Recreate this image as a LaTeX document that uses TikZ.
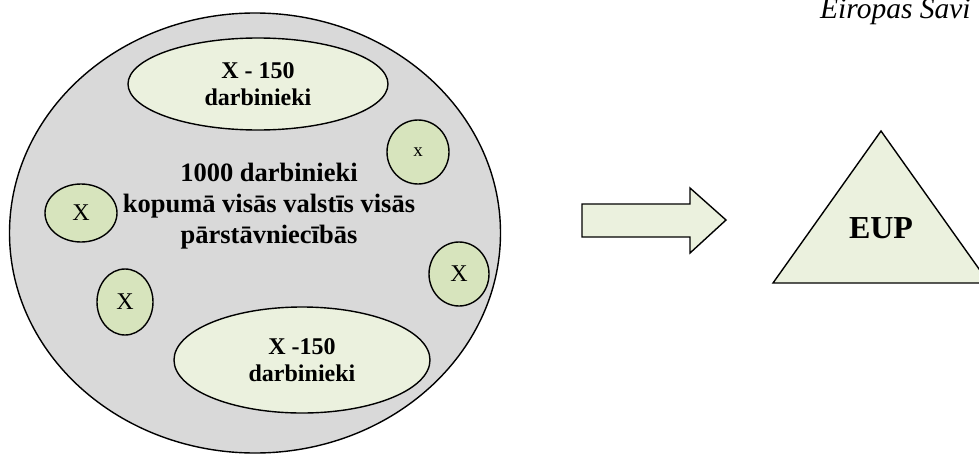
\documentclass[tikz,border=0pt]{standalone}
\usepackage{fontspec}
\setmainfont{Liberation Serif}
\usetikzlibrary{shapes.geometric}
\definecolor{biggray}{HTML}{D9D9D9}
\definecolor{palegreen}{HTML}{EBF1DE}
\definecolor{midgreen}{HTML}{D7E4BD}
\tikzset{
  outl/.style={draw=black, line width=1.4pt},
  bigell/.style={outl, ellipse, fill=biggray, inner sep=0pt},
  grpell/.style={outl, ellipse, fill=palegreen, inner sep=0pt, align=center,
    font=\bfseries\fontsize{24}{27}\selectfont},
  smallc/.style={outl, ellipse, fill=midgreen, inner sep=0pt,
    font=\fontsize{24}{27}\selectfont},
  centertext/.style={align=center, font=\bfseries\fontsize{26.5}{31}\selectfont},
}
\begin{document}
\begin{tikzpicture}[x=1pt,y=-1pt]
\useasboundingbox (0,0) rectangle (979,455);
\clip (0,0) rectangle (979,455);
% big ellipse
\node[bigell, minimum width=491pt, minimum height=440pt] (big) at (255,233) {};
\node[centertext] (total) at (269,206) {1000 darbinieki\\kopumā visās valstīs visās\\pārstāvniecībās};
% group ellipses
\node[grpell, minimum width=260pt, minimum height=92pt] (top) at (258,84) {X - 150\\darbinieki};
\node[grpell, minimum width=256pt, minimum height=106pt] (bottom) at (302,360) {X -150\\darbinieki};
% small circles
\node[smallc, minimum width=62pt, minimum height=64pt, font=\fontsize{19}{22}\selectfont] (c1) at (418,152) {x};
\node[smallc, minimum width=72pt, minimum height=58pt] (c2) at (81,213) {X};
\node[smallc, minimum width=56pt, minimum height=66pt] (c3) at (125,302) {X};
\node[smallc, minimum width=60pt, minimum height=64pt] (c4) at (459,274) {X};
% block arrow
\draw[outl, fill=palegreen, line join=miter]
  (582,204) -- (690,204) -- (690,188) -- (726,220) -- (690,253) -- (690,237) -- (582,237) -- cycle;
% triangle
\draw[outl, fill=palegreen, line join=miter] (881,131) -- (989,283) -- (773,283) -- cycle;
\node[font=\bfseries\fontsize{32}{36}\selectfont] (eup) at (881,228) {EUP};
% heading (cut off as in the reference)
\node[anchor=base west, inner sep=0pt, font=\itshape\fontsize{29.5}{32}\selectfont] (head) at (820,18) {Eiropas Savi};
\end{tikzpicture}
\end{document}
